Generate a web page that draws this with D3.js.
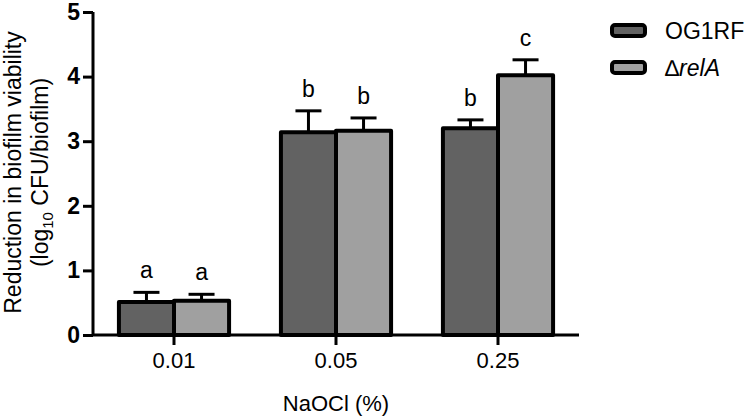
<!DOCTYPE html>
<html>
<head>
<meta charset="utf-8">
<script src="https://cdn.jsdelivr.net/npm/d3@7"></script>
<style>
  body { margin: 0; background: #fff; }
  text { font-family: "Liberation Sans", Arial, sans-serif; fill: #000; }
</style>
</head>
<body>
<div id="myPlot"></div>
<script>
// data
const concentrations = ['0.01', '0.05', '0.25'];
const strains = ['OG1RF', 'relA'];
const og1rfMeans = [0.51, 3.14, 3.20];
const og1rfErr = [0.15, 0.33, 0.13];
const relAMeans = [0.53, 3.16, 4.02];
const relAErr = [0.10, 0.20, 0.24];
const og1rfLetters = ['a', 'b', 'b'];
const relALetters = ['a', 'b', 'c'];
const yTicks = [0, 1, 2, 3, 4, 5];

const colors = { OG1RF: '#626262', relA: '#a0a0a0' };

const width = 750, height = 417;
const margin = { top: 12, right: 171, bottom: 82, left: 93 };
const w = width - margin.left - margin.right;
const h = height - margin.top - margin.bottom;

const svg = d3.select('#myPlot')
  .append('svg')
    .attr('width', width)
    .attr('height', height)
  .append('g')
    .attr('transform', 'translate(' + margin.left + ',' + margin.top + ')');

const x = d3.scaleBand()
  .domain(concentrations)
  .range([0, w])
  .padding(0);

const x1 = d3.scaleBand()
  .domain(strains)
  .range([x.bandwidth() * 0.16, x.bandwidth() * 0.84])
  .padding(0);

const y = d3.scaleLinear()
  .domain([0, 5])
  .range([h, 0]);

const rows = [];
concentrations.forEach((c, i) => {
  rows.push({ conc: c, strain: 'OG1RF', mean: og1rfMeans[i], err: og1rfErr[i], letter: og1rfLetters[i] });
  rows.push({ conc: c, strain: 'relA', mean: relAMeans[i], err: relAErr[i], letter: relALetters[i] });
});

// error bars (upper only), drawn under the bars
const eb = svg.selectAll('g.err')
  .data(rows)
  .enter()
  .append('g')
  .attr('class', 'err');
eb.append('line')
  .attr('x1', d => x(d.conc) + x1(d.strain) + x1.bandwidth() / 2)
  .attr('x2', d => x(d.conc) + x1(d.strain) + x1.bandwidth() / 2)
  .attr('y1', d => y(d.mean))
  .attr('y2', d => y(d.mean + d.err))
  .attr('stroke', '#000')
  .attr('stroke-width', 3);
eb.append('line')
  .attr('x1', d => x(d.conc) + x1(d.strain) + x1.bandwidth() / 2 - 13)
  .attr('x2', d => x(d.conc) + x1(d.strain) + x1.bandwidth() / 2 + 13)
  .attr('y1', d => y(d.mean + d.err))
  .attr('y2', d => y(d.mean + d.err))
  .attr('stroke', '#000')
  .attr('stroke-width', 3);

// bars
svg.selectAll('rect.bar')
  .data(rows)
  .enter()
  .append('rect')
  .attr('class', 'bar')
  .attr('x', d => x(d.conc) + x1(d.strain))
  .attr('y', d => y(d.mean))
  .attr('width', x1.bandwidth())
  .attr('height', d => h - y(d.mean))
  .attr('fill', d => colors[d.strain])
  .attr('stroke', '#000')
  .attr('stroke-width', 4)
  .attr('stroke-linejoin', 'round');

// significance letters
svg.selectAll('text.letter')
  .data(rows)
  .enter()
  .append('text')
  .attr('class', 'letter')
  .attr('x', d => x(d.conc) + x1(d.strain) + x1.bandwidth() / 2)
  .attr('y', d => y(d.mean + d.err) - 14)
  .attr('text-anchor', 'middle')
  .style('font-size', '23px')
  .text(d => d.letter);

// Y axis
const yAxis = svg.append('g')
  .call(d3.axisLeft(y).tickValues(yTicks).tickFormat(d3.format('d')).tickSize(10).tickPadding(3));
yAxis.select('.domain').attr('stroke-width', 3).attr('d', 'M0,' + h + 'V0');
yAxis.selectAll('.tick line').attr('stroke-width', 3);
yAxis.selectAll('text')
  .style('font-size', '23px')
  .style('font-weight', 'bold');

// X axis
const xAxis = svg.append('g')
  .attr('transform', 'translate(0,' + h + ')')
  .call(d3.axisBottom(x).tickSize(10).tickPadding(7));
xAxis.select('.domain').attr('stroke-width', 3).attr('d', 'M0,0H' + w);
xAxis.selectAll('.tick line').attr('stroke-width', 3);
xAxis.selectAll('text')
  .style('font-size', '22px');

// axis titles
svg.append('text')
  .attr('x', w / 2)
  .attr('y', h + 76)
  .attr('text-anchor', 'middle')
  .style('font-size', '22px')
  .text('NaOCl (%)');

const yt = svg.append('g')
  .attr('transform', 'translate(' + (-72) + ',' + (h / 2 - 1) + ') rotate(-90)');
yt.append('text')
  .attr('x', 0)
  .attr('y', 0)
  .attr('text-anchor', 'middle')
  .style('font-size', '23px')
  .text('Reduction in biofilm viability');
const yt2 = yt.append('text')
  .attr('x', 0)
  .attr('y', 27)
  .attr('text-anchor', 'middle')
  .style('font-size', '23px');
yt2.append('tspan').text('(log');
yt2.append('tspan').attr('dy', 5).style('font-size', '15px').text('10');
yt2.append('tspan').attr('dy', -5).text(' CFU/biofilm)');

// legend
const legend = svg.append('g')
  .attr('transform', 'translate(' + (612 - margin.left) + ',' + (25 - margin.top) + ')');
const legItems = legend.selectAll('g')
  .data(strains)
  .enter()
  .append('g')
  .attr('transform', (d, i) => 'translate(0,' + i * 37 + ')');
legItems.append('rect')
  .attr('width', 33)
  .attr('height', 11)
  .attr('rx', 3)
  .attr('fill', d => colors[d])
  .attr('stroke', '#000')
  .attr('stroke-width', 4);
const legText = legItems.append('text')
  .attr('x', 53)
  .attr('y', 6)
  .attr('dy', '0.35em')
  .style('font-size', '23px');
legText.filter(d => d === 'OG1RF').text('OG1RF');
legText.filter(d => d === 'relA').each(function() {
  const t = d3.select(this);
  t.append('tspan').text('\u2206');
  t.append('tspan').style('font-style', 'italic').text('relA');
});
</script>
</body>
</html>
